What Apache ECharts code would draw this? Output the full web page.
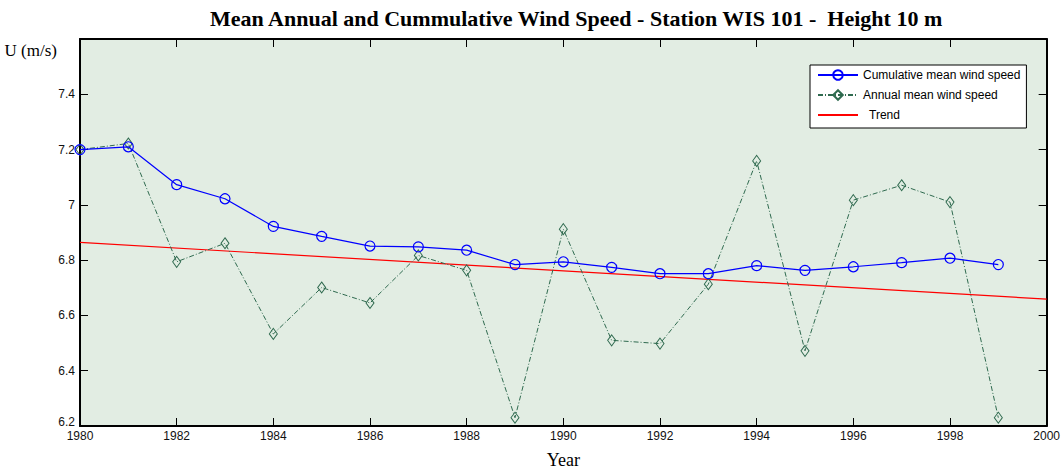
<!DOCTYPE html>
<html>
<head>
<meta charset="utf-8">
<script src="https://cdn.jsdelivr.net/npm/echarts@6/dist/echarts.min.js"></script>
<style>
  html, body { margin: 0; padding: 0; background: #fff; }
  #chart { width: 1063px; height: 474px; }
</style>
</head>
<body>
<div id="chart"></div>
<script>
// data
const years = [1980, 1981, 1982, 1983, 1984, 1985, 1986, 1987, 1988, 1989,
               1990, 1991, 1992, 1993, 1994, 1995, 1996, 1997, 1998, 1999]
const cumulativeMean = [7.20, 7.21, 7.073, 7.022, 6.922, 6.886, 6.851, 6.848, 6.836, 6.784,
                        6.794, 6.774, 6.751, 6.751, 6.780, 6.763, 6.776, 6.791, 6.807, 6.784]
const annualMean = [7.20, 7.222, 6.794, 6.861, 6.533, 6.701, 6.645, 6.817, 6.763, 6.230,
                    6.912, 6.510, 6.498, 6.713, 7.159, 6.472, 7.017, 7.071, 7.010, 6.230]
const trendYears = [1980, 2000]
const trendValues = [6.864, 6.659]

const yMin = 6.2
const yMax = 7.6

const pairs = (xs, ys) => xs.map((x, i) => [x, ys[i]])

const axisLineStyle = { lineStyle: { color: '#000', width: 2 } }
const tickStyle = { inside: true, length: 8, lineStyle: { color: '#000', width: 1 } }
const labelStyle = { color: '#111', fontFamily: 'Liberation Sans', fontSize: 12 }

const chart = echarts.init(document.getElementById('chart'), null, { renderer: 'svg' })
chart.setOption({
  animation: false,
  title: {
    text: 'Mean Annual and Cummulative Wind Speed - Station WIS 101 -  Height 10 m',
    left: 205, top: 2,
    textStyle: { fontFamily: 'Liberation Serif', fontWeight: 'bold', fontSize: 22, color: '#000' }
  },
  legend: {
    left: 810, top: 65, orient: 'vertical',
    backgroundColor: '#fff', borderColor: '#000', borderWidth: 1, borderRadius: 0,
    padding: [4, 6, 7, 7], itemGap: 8, itemWidth: 40, itemHeight: 12,
    textStyle: { color: '#000', fontFamily: 'Liberation Sans', fontSize: 12 },
    formatter: name => name === 'Trend' ? '\u2002Trend' : name,
    data: [
      'Cumulative mean wind speed',
      'Annual mean wind speed',
      { name: 'Trend', itemStyle: { opacity: 0 } }
    ]
  },
  grid: {
    left: 80, right: 16, top: 39, bottom: 44,
    show: true, backgroundColor: '#e2ede3', borderWidth: 0
  },
  xAxis: [{
    type: 'value', min: 1980, max: 2000, interval: 2,
    name: 'Year', nameLocation: 'middle', nameGap: 25,
    nameTextStyle: { fontFamily: 'Liberation Serif', fontSize: 18, color: '#000' },
    axisLine: axisLineStyle, axisTick: tickStyle,
    axisLabel: Object.assign({ margin: 4, formatter: v => String(v) }, labelStyle),
    splitLine: { show: false }
  }, {
    type: 'value', min: 1980, max: 2000, interval: 2, position: 'top',
    axisLine: axisLineStyle, axisTick: tickStyle,
    axisLabel: { show: false }, splitLine: { show: false }
  }],
  yAxis: [{
    type: 'value', min: yMin, max: yMax, interval: 0.2,
    name: 'U (m/s)', nameLocation: 'end', nameGap: -11,
    nameTextStyle: {
      fontFamily: 'Liberation Serif', fontSize: 17, color: '#000',
      align: 'right', verticalAlign: 'middle', padding: [0, 23, 0, 0]
    },
    axisLine: axisLineStyle, axisTick: tickStyle,
    axisLabel: Object.assign({
      margin: 5, showMaxLabel: false,
      // lift the bottom label a little so it clears the 1980 label
      formatter: v => {
        const s = String(+v.toFixed(1))
        return Math.abs(v - yMin) < 1e-6 ? '{lo|' + s + '}' : s
      },
      rich: { lo: { padding: [0, 0, 9, 0] } }
    }, labelStyle),
    splitLine: { show: false }
  }, {
    type: 'value', min: yMin, max: yMax, interval: 0.2, position: 'right',
    axisLine: axisLineStyle, axisTick: tickStyle,
    axisLabel: { show: false }, splitLine: { show: false }
  }],
  series: [{
    name: 'Cumulative mean wind speed',
    type: 'line',
    data: pairs(years, cumulativeMean),
    symbol: 'circle', symbolSize: 10,
    itemStyle: { color: 'rgba(0,0,0,0)', borderColor: '#0000ff', borderWidth: 1.2 },
    lineStyle: { color: '#0000ff', width: 1.2 },
    z: 3
  }, {
    name: 'Annual mean wind speed',
    type: 'line',
    data: pairs(years, annualMean),
    symbol: 'diamond', symbolSize: [8, 11],
    itemStyle: { color: 'rgba(0,0,0,0)', borderColor: '#2f6a4f', borderWidth: 1 },
    lineStyle: { color: '#2f6a4f', width: 1, type: [5, 2, 1, 2] },
    z: 2
  }, {
    name: 'Trend',
    type: 'line',
    data: pairs(trendYears, trendValues),
    symbol: 'none',
    itemStyle: { color: '#ff0000' },
    lineStyle: { color: '#ff0000', width: 1.2 },
    z: 1
  }]
})
</script>
</body>
</html>
